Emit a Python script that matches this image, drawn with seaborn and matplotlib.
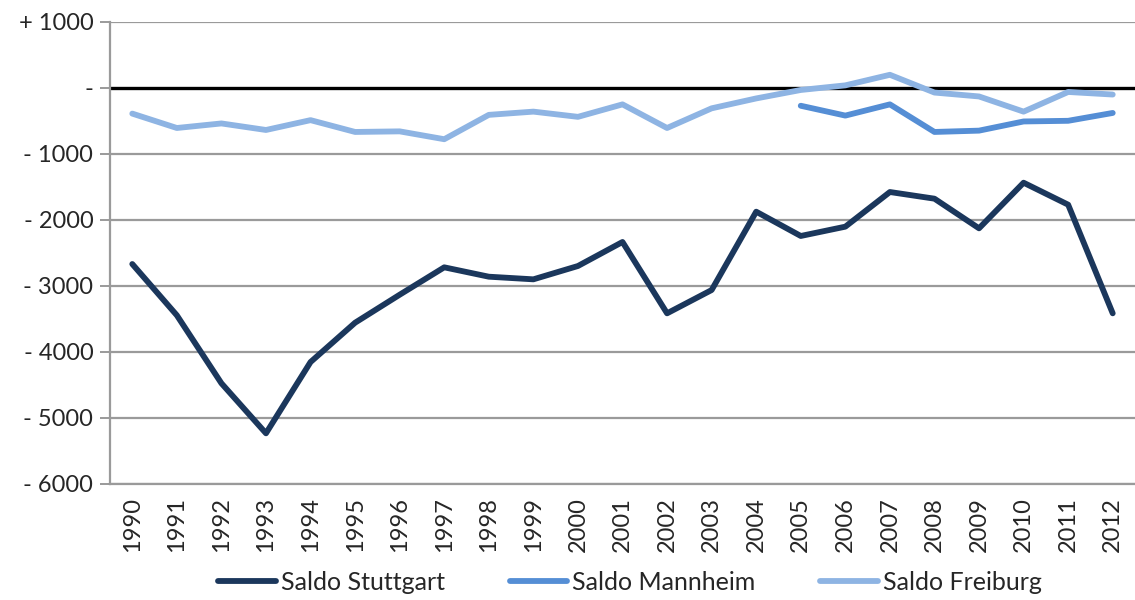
import numpy as np
import pandas as pd
import matplotlib
matplotlib.use("Agg")
import matplotlib.pyplot as plt
import seaborn as sns

years = [str(y) for y in range(1990, 2013)]
stuttgart = [-2667, -3444, -4474, -5232, -4152, -3556, -3132, -2717, -2859, -2899,
             -2697, -2333, -3414, -3061, -1874, -2242, -2101, -1576, -1677, -2126,
             -1435, -1768, -3414]
mannheim = [None] * 15 + [-269, -418, -248, -666, -646, -507, -497, -378]
freiburg = [-388, -606, -537, -636, -487, -666, -657, -776, -407, -358,
            -437, -248, -606, -308, -158, -30, 40, 200, -69, -128,
            -358, -60, -99]
series_names = ["Saldo Stuttgart", "Saldo Mannheim", "Saldo Freiburg"]
colors = ["#1B375C", "#558ED5", "#8EB4E3"]
yticks = [1000, 0, -1000, -2000, -3000, -4000, -5000, -6000]

rows = []
for name, vals in zip(series_names, [stuttgart, mannheim, freiburg]):
    for i, v in enumerate(vals):
        if v is not None:
            rows.append({"x": i, "value": v, "series": name})
df = pd.DataFrame(rows)

sns.set_style("white")
plt.rcParams['font.family'] = ['Lato', 'DejaVu Sans']

fig = plt.figure(figsize=(11.35, 6.0), dpi=100)
ax = fig.add_axes([110 / 1135, 1 - 484 / 600, 1 - 110 / 1135, (484 - 22) / 600])

for yv in yticks:
    if yv == 0:
        continue
    ax.axhline(yv, color="#9a9a9a", lw=1.6, zorder=1)
ax.axhline(0, color="black", lw=2.4, zorder=2)

sns.lineplot(data=df, x="x", y="value", hue="series", hue_order=series_names,
             palette=colors, linewidth=4.2, ax=ax, legend=True, zorder=3,
             solid_capstyle="round")

ax.set_xlim(-0.5, len(years) - 0.5)
ax.set_ylim(-6000, 1000)
ax.set_xticks(range(len(years)))
ax.set_xticklabels(years, rotation=90, fontsize=17)
ax.set_yticks(yticks)

def fmt(v):
    if v > 0:
        return f"+ {int(v)}"
    if v == 0:
        return "-"
    return f"- {int(abs(v))}"

ax.set_yticklabels([fmt(v) for v in yticks], fontsize=17)
ax.set_xlabel("")
ax.set_ylabel("")

for s in ["top", "right"]:
    ax.spines[s].set_visible(False)
ax.spines["left"].set_color("#9a9a9a")
ax.spines["left"].set_linewidth(1.6)
ax.spines["bottom"].set_color("#9a9a9a")
ax.spines["bottom"].set_linewidth(1.6)
ax.tick_params(axis="y", which="both", left=True, length=7, width=1.4,
               color="#9a9a9a", pad=5)
ax.tick_params(axis="x", bottom=False, pad=6)

leg = ax.get_legend()
handles, labels = ax.get_legend_handles_labels()
leg.remove()
fig.legend(handles, labels, loc="center", bbox_to_anchor=(0.555, 0.03),
           ncol=3, frameon=False, fontsize=18, handlelength=2.3,
           columnspacing=2.6, handletextpad=0.2, borderpad=0.1)

fig.savefig("out.png", dpi=100)
